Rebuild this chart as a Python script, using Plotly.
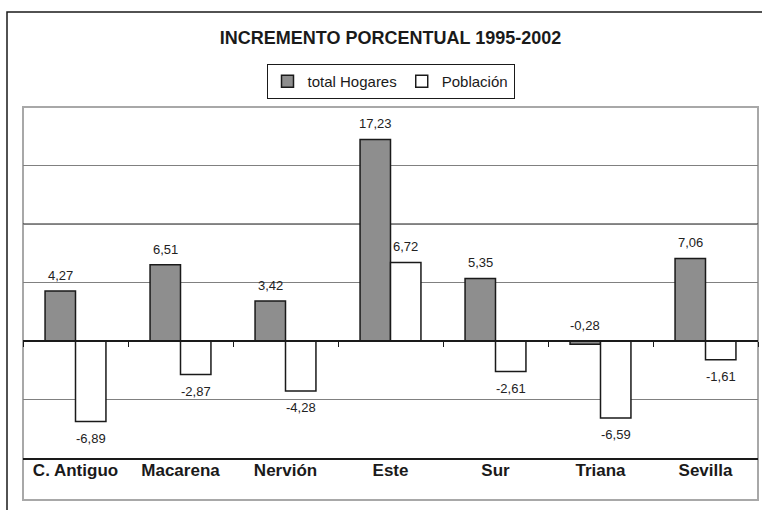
import plotly.graph_objects as go

categorias = ["C. Antiguo", "Macarena", "Nervión", "Este", "Sur", "Triana", "Sevilla"]
hogares = [4.27, 6.51, 3.42, 17.23, 5.35, -0.28, 7.06]
poblacion = [-6.89, -2.87, -4.28, 6.72, -2.61, -6.59, -1.61]
serie_nombres = ["total Hogares", "Población"]
titulo = "INCREMENTO PORCENTUAL 1995-2002"

W, H = 762, 510
ML, MR, MT, MB = 23, 4, 107, 52
YMIN, YMAX = -10, 20
BARGAP = 0.42
FONT = "Liberation Sans, Arial, Helvetica, sans-serif"

def fmt(v):
    return f"{v:.2f}".replace(".", ",")

fig = go.Figure()
fig.add_trace(go.Bar(x=categorias, y=hogares, name=serie_nombres[0],
                     marker=dict(color="#8e8e8e", line=dict(color="#1a1a1a", width=1.5)),
                     hoverinfo="x+y"))
fig.add_trace(go.Bar(x=categorias, y=poblacion, name=serie_nombres[1],
                     marker=dict(color="#ffffff", line=dict(color="#1a1a1a", width=1.5)),
                     hoverinfo="x+y"))
# helper trace for the zero-line axis ticks
fig.add_trace(go.Scatter(x=categorias, y=[0] * len(categorias), xaxis="x2", mode="markers",
                         marker=dict(opacity=0), showlegend=False, hoverinfo="skip"))

plot_w = W - ML - MR
cat_w = plot_w / len(categorias)
off = cat_w * (1 - BARGAP) / 4

ann = []
for c, v in zip(categorias, hogares):
    ann.append(dict(x=c, y=max(v, 0), xref="x", yref="y", text=fmt(v), showarrow=False,
                    xshift=-off, yshift=6, yanchor="bottom",
                    font=dict(family=FONT, size=13, color="#222")))
for c, v in zip(categorias, poblacion):
    ann.append(dict(x=c, y=v, xref="x", yref="y", text=fmt(v), showarrow=False,
                    xshift=off, yshift=(6 if v >= 0 else -7),
                    yanchor=("bottom" if v >= 0 else "top"),
                    font=dict(family=FONT, size=13, color="#222")))

plot_h = H - MT - MB
shapes = [
    # outer frame
    dict(type="rect", xref="paper", yref="paper",
         x0=(7 - ML) / plot_w, x1=1.05, y0=-0.4, y1=1 + (MT - 12) / plot_h,
         line=dict(color="#1a1a1a", width=1.5), layer="below"),
    # plot area border (grey)
    dict(type="rect", xref="paper", yref="paper",
         x0=0, x1=1, y0=-(500 - (H - MB)) / plot_h, y1=1,
         line=dict(color="#a8a8a8", width=2), layer="below"),
    # darker gridline at 10
    dict(type="line", xref="paper", yref="y", x0=0, x1=1, y0=10, y1=10,
         line=dict(color="#1a1a1a", width=1), layer="below"),
]

fig.update_layout(
    width=W, height=H, autosize=False,
    margin=dict(l=ML, r=MR, t=MT, b=MB),
    paper_bgcolor="white", plot_bgcolor="white",
    barmode="group", bargap=BARGAP, bargroupgap=0,
    title=dict(text=f"<b>{titulo}</b>", x=0.5, xref="paper", xanchor="center",
               y=1 - 38 / H, yref="container", yanchor="middle",
               font=dict(family=FONT, size=18, color="#1a1a1a")),
    legend=dict(orientation="h", x=0.5, xanchor="center", y=1 + (MT - 64) / plot_h,
                yanchor="top", bordercolor="#1a1a1a", borderwidth=1, bgcolor="white",
                font=dict(family=FONT, size=15, color="#1a1a1a"), itemwidth=30,
                traceorder="normal"),
    font=dict(family=FONT, color="#1a1a1a"),
    xaxis=dict(type="category", categoryorder="array", categoryarray=categorias,
               range=[-0.5, len(categorias) - 0.5],
               showline=True, linecolor="#1a1a1a", linewidth=1.5, ticks="",
               showgrid=False, zeroline=False, automargin=False, ticklabelstandoff=-4,
               tickfont=dict(family=FONT, size=17, color="#1a1a1a"),
               tickprefix="<b>", ticksuffix="</b>"),
    xaxis2=dict(type="category", categoryorder="array", categoryarray=categorias,
                range=[-0.5, len(categorias) - 0.5], overlaying="x", anchor="free",
                position=(0 - YMIN) / (YMAX - YMIN), side="bottom",
                showline=True, linecolor="#1a1a1a", linewidth=1.5,
                ticks="outside", tickson="boundaries", ticklen=5, tickcolor="#1a1a1a",
                tickwidth=1, showticklabels=False, showgrid=False, zeroline=False),
    yaxis=dict(range=[YMIN, YMAX], dtick=5, showticklabels=False, showgrid=True,
               gridcolor="#808080", gridwidth=1, zeroline=False, showline=False, ticks=""),
    annotations=ann, shapes=shapes,
)

fig.write_html("out.html", config={"displayModeBar": False},
               post_script="document.body.style.margin='0';document.body.style.overflow='hidden';")
